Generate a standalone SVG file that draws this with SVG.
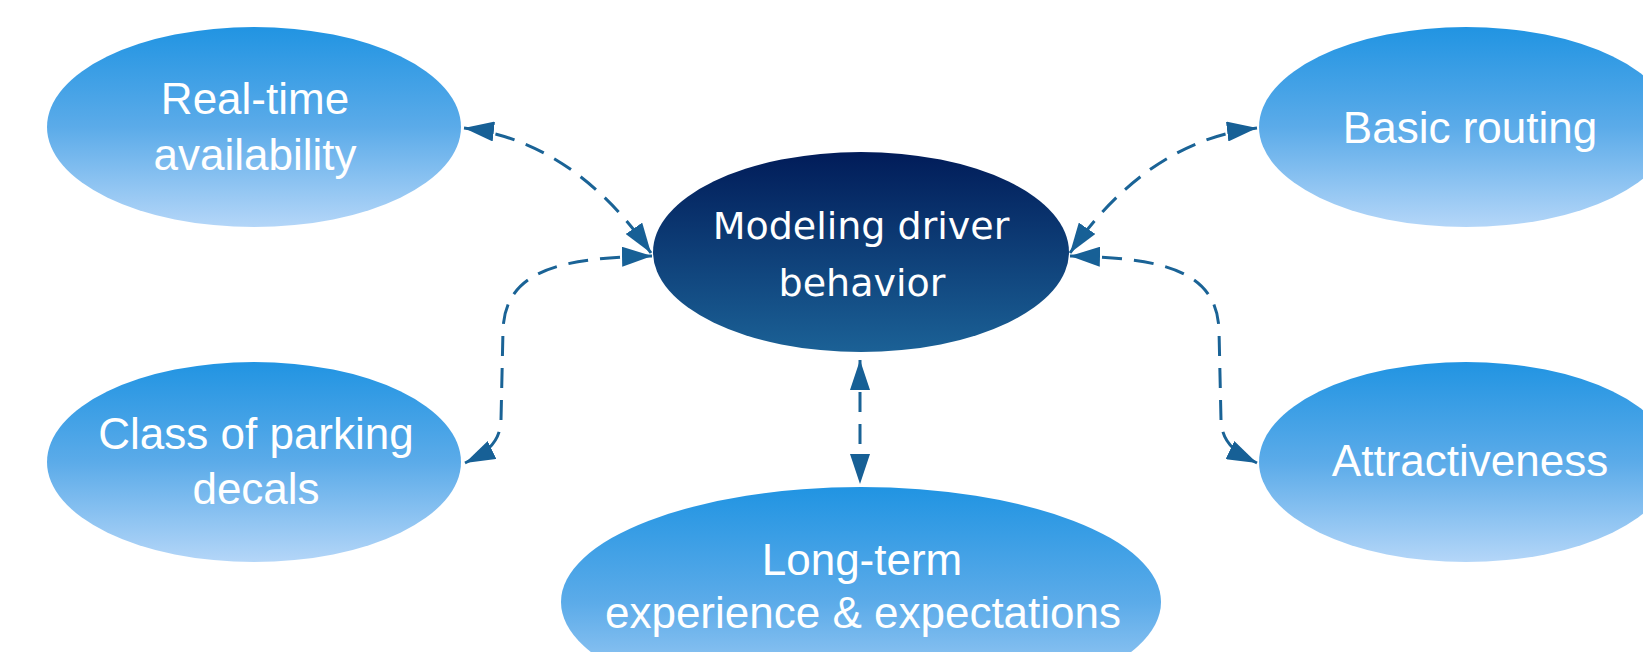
<svg xmlns="http://www.w3.org/2000/svg" width="1643" height="652" viewBox="0 0 1643 652">
  <defs>
    <linearGradient id="gradOuter" x1="0" y1="0" x2="0" y2="1">
      <stop offset="0" stop-color="#2194e2"/>
      <stop offset="0.5" stop-color="#5babe9"/>
      <stop offset="1" stop-color="#b4d6f8"/>
    </linearGradient>
    <linearGradient id="gradCenter" x1="0" y1="0" x2="0" y2="1">
      <stop offset="0" stop-color="#011c59"/>
      <stop offset="1" stop-color="#1b6196"/>
    </linearGradient>
    <marker id="arrow" viewBox="0 0 30 20" refX="30" refY="10" markerWidth="30" markerHeight="20" markerUnits="userSpaceOnUse" orient="auto-start-reverse">
      <path d="M0,0 L30,10 L0,20 Z" fill="#176096"/>
    </marker>
    <style>
      .outer { fill: url(#gradOuter); }
      .center { fill: url(#gradCenter); }
      .label { font-family: "Liberation Sans", Arial, sans-serif; font-size: 44px; fill: #ffffff; text-anchor: middle; }
      .label-main { font-family: "DejaVu Sans", Verdana, sans-serif; font-size: 38px; fill: #ffffff; text-anchor: middle; }
      .link { fill: none; stroke: #1a6396; stroke-width: 3; stroke-dasharray: 20 12; marker-start: url(#arrow); marker-end: url(#arrow); }
    </style>
  </defs>

  <rect width="1643" height="652" fill="#ffffff"/>

  <g id="node-realtime">
    <ellipse class="outer" cx="254" cy="127" rx="207" ry="100"/>
    <text class="label" x="255" y="114">Real-time</text>
    <text class="label" x="255" y="170">availability</text>
  </g>

  <g id="node-class">
    <ellipse class="outer" cx="254" cy="462" rx="207" ry="100"/>
    <text class="label" x="256" y="449">Class of parking</text>
    <text class="label" x="256" y="504">decals</text>
  </g>

  <g id="node-routing">
    <ellipse class="outer" cx="1466" cy="127" rx="207" ry="100"/>
    <text class="label" x="1470" y="143">Basic routing</text>
  </g>

  <g id="node-attract">
    <ellipse class="outer" cx="1466" cy="462" rx="207" ry="100"/>
    <text class="label" x="1470" y="476">Attractiveness</text>
  </g>

  <g id="node-longterm">
    <ellipse class="outer" cx="861" cy="602" rx="300" ry="115"/>
    <text class="label" x="862" y="575">Long-term</text>
    <text class="label" x="863" y="628">experience &amp; expectations</text>
  </g>

  <g id="node-driver">
    <ellipse class="center" cx="861" cy="252" rx="208" ry="100"/>
    <text class="label-main" x="861" y="239">Modeling driver</text>
    <text class="label-main" x="862" y="296">behavior</text>
  </g>

  <g id="connectors">
    <path class="link" d="M464,128 C540,137 602,182 651,253"/>
    <path class="link" d="M652,256 C565,258 505,268 503,330 L501,420 C500,442 488,452 465,463"/>
    <path class="link" d="M1257,128 C1181,137 1119,182 1070,253"/>
    <path class="link" d="M1070,256 C1157,258 1217,268 1219,330 L1221,420 C1222,442 1234,452 1257,463"/>
    <path class="link" d="M860,360 L860,484"/>
  </g>
</svg>
